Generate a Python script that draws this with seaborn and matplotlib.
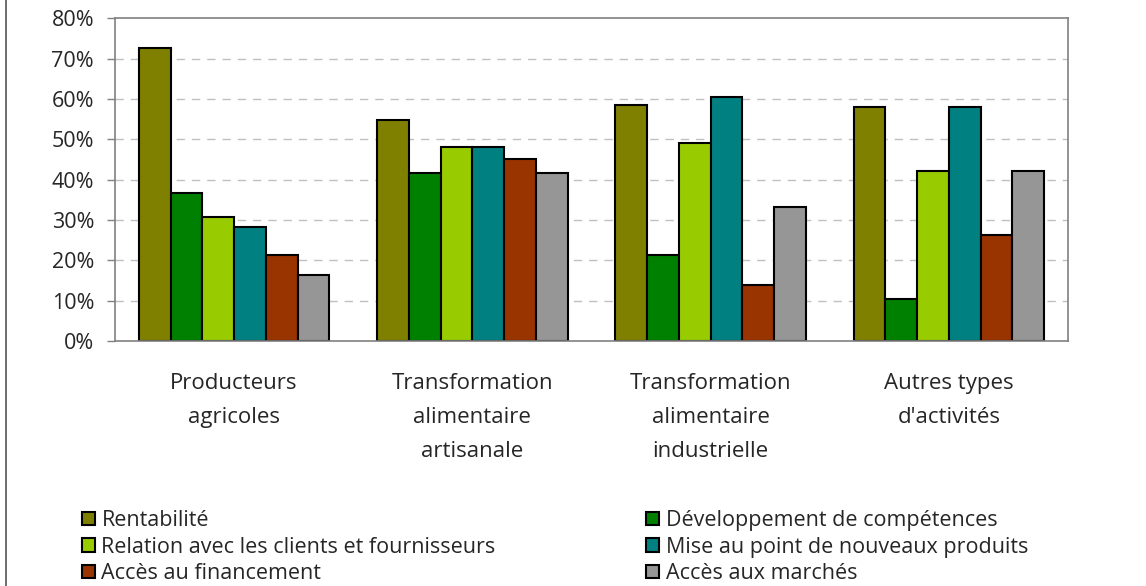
import pandas as pd
import numpy as np
import matplotlib.pyplot as plt
import seaborn as sns
from matplotlib.lines import Line2D
from matplotlib.ticker import PercentFormatter

categories = ["Producteurs\nagricoles",
              "Transformation\nalimentaire\nartisanale",
              "Transformation\nalimentaire\nindustrielle",
              "Autres types\nd'activités"]
series = ["Rentabilité",
          "Développement de compétences",
          "Relation avec les clients et fournisseurs",
          "Mise au point de nouveaux produits",
          "Accès au financement",
          "Accès aux marchés"]
colors = ["#808000", "#008000", "#99CC00", "#008080", "#993300", "#969696"]

# values in % per series, one per category
rentabilite = [72.5, 54.7, 58.6, 58.1]
competences = [36.7, 41.7, 21.2, 10.4]
relation = [30.8, 48.1, 49.1, 42.2]
nouveaux_produits = [28.3, 48.1, 60.5, 58.1]
financement = [21.3, 45.1, 13.8, 26.3]
marches = [16.4, 41.7, 33.2, 42.2]

values = [rentabilite, competences, relation, nouveaux_produits, financement, marches]
rows = []
for s, vals in zip(series, values):
    for c, v in zip(categories, vals):
        rows.append({"cat": c, "serie": s, "val": v})
df = pd.DataFrame(rows)

sns.set_style("white")
plt.rcParams['font.family'] = ['Open Sans', 'DejaVu Sans']

fig = plt.figure(figsize=(11.46, 5.86), dpi=100)
ax = fig.add_axes([0.1003, 0.418, 0.8317, 0.551])

sns.barplot(data=df, x="cat", y="val", hue="serie", order=categories,
            hue_order=series, palette=colors, width=0.8, edgecolor="black",
            linewidth=1.5, saturation=1, ax=ax)

ax.set_ylim(0, 80)
ax.set_xlim(-0.5, 3.5)
ax.set_yticks(np.arange(0, 81, 10))
ax.yaxis.set_major_formatter(PercentFormatter(decimals=0))
ax.set_xlabel("")
ax.set_ylabel("")
for y in range(10, 80, 10):
    ax.axhline(y, color="#c0c0c0", linestyle=(0, (6, 5)), linewidth=1, zorder=0)

ax.set_xticks(range(len(categories)))
ax.set_xticklabels(categories, fontsize=16, linespacing=1.8, va="top")
ax.set_xticks(np.arange(-0.5, 4, 1), minor=True)
ax.tick_params(axis="x", which="major", length=0, pad=23)
ax.tick_params(axis="x", which="minor", length=5, color="#808080", width=1, direction="out")
ax.tick_params(axis="y", length=6, color="#808080", width=1, direction="out",
               labelsize=15.5, pad=9, left=True)
for sp in ax.spines.values():
    sp.set_color("#808080")
    sp.set_linewidth(1.2)

handles, labels = ax.get_legend_handles_labels()
order = [0, 2, 4, 1, 3, 5]
ax.legend([handles[i] for i in order], [labels[i] for i in order],
          loc="upper left", bbox_to_anchor=(82 / 1146, 1 - 510 / 586),
          bbox_transform=fig.transFigure, ncol=2, frameon=False,
          fontsize=15.5, handlelength=0.6, handleheight=0.6, handletextpad=0.3,
          columnspacing=7.0, labelspacing=0.26, borderpad=0, borderaxespad=0)

fig.add_artist(Line2D([0.0048, 0.0048], [0, 1], color="#555555", linewidth=1.2,
                      transform=fig.transFigure))

fig.savefig("out.png", dpi=100)
